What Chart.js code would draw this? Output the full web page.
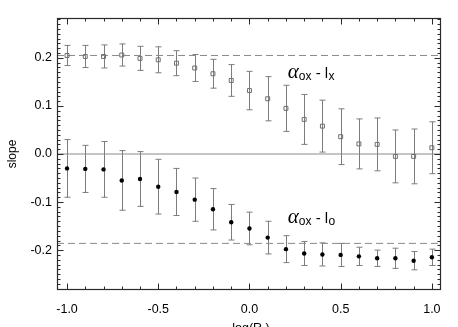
<!DOCTYPE html>
<html>
<head>
<meta charset="utf-8">
<script src="https://cdn.jsdelivr.net/npm/chart.js"></script>
<style>
  html, body { margin: 0; padding: 0; background: #fff; }
  #wrap { width: 458px; height: 327px; }
</style>
</head>
<body>
<div id="wrap"><canvas id="chart" width="458" height="327"></canvas></div>
<script>
// log(R*) bins
const logR = [-1.0, -0.9, -0.8, -0.7, -0.6, -0.5, -0.4, -0.3, -0.2, -0.1, 0.0,
              0.1, 0.2, 0.3, 0.4, 0.5, 0.6, 0.7, 0.8, 0.9, 1.0];

// alpha_ox - l_x (open squares)
const slopeLx = [0.205, 0.203, 0.203, 0.206, 0.199, 0.196, 0.189, 0.179, 0.167, 0.153, 0.132,
                 0.115, 0.095, 0.072, 0.058, 0.036, 0.021, 0.020, -0.005, -0.005, 0.013];
const errLx = [0.021, 0.023, 0.024, 0.023, 0.025, 0.027, 0.026, 0.028, 0.030, 0.033, 0.040,
               0.046, 0.048, 0.052, 0.054, 0.058, 0.052, 0.055, 0.055, 0.057, 0.054];

// alpha_ox - l_o (filled dots)
const slopeLo = [-0.030, -0.031, -0.032, -0.055, -0.052, -0.068, -0.079, -0.095, -0.115, -0.142, -0.155,
                 -0.174, -0.198, -0.207, -0.209, -0.210, -0.213, -0.217, -0.217, -0.222, -0.215];
const errLo = [0.060, 0.049, 0.058, 0.062, 0.057, 0.057, 0.049, 0.045, 0.043, 0.037, 0.034,
               0.034, 0.028, 0.025, 0.024, 0.024, 0.019, 0.017, 0.021, 0.019, 0.017];

// horizontal reference levels
const levelLx = 0.205;
const levelLo = -0.186;
const levelZero = 0.0;

// axis ticks
const xTicks = [-1.0, -0.5, 0.0, 0.5, 1.0];
const yTicks = [-0.2, -0.1, 0.0, 0.1, 0.2];
const xRange = [-1.055, 1.05];
const yRange = [-0.283, 0.283];

// label positions (data units)
const labelX = 0.21;
const labelLxY = 0.158;
const labelLoY = -0.144;

const FONT = "'Liberation Sans', Arial, Helvetica, sans-serif";

function pts(xs, ys) {
    return xs.map((x, i) => ({ x: x, y: ys[i] }));
}
function hline(v) {
    return [{ x: xRange[0], y: v }, { x: xRange[1], y: v }];
}

// error bars drawn through the chart scales
const errorBars = {
    id: "errorBars",
    beforeDatasetsDraw(chart) {
        const ctx = chart.ctx;
        const xs = chart.scales.x, ys = chart.scales.y;
        ctx.save();
        ctx.strokeStyle = "#7c7c7c";
        ctx.lineWidth = 1;
        chart.data.datasets.forEach(ds => {
            if (!ds.errors) return;
            ds.data.forEach((p, i) => {
                const px = Math.round(xs.getPixelForValue(p.x)) + 0.5;
                const top = ys.getPixelForValue(p.y + ds.errors[i]);
                const bot = ys.getPixelForValue(p.y - ds.errors[i]);
                ctx.beginPath();
                ctx.moveTo(px, top); ctx.lineTo(px, bot);
                ctx.moveTo(px - 3, top); ctx.lineTo(px + 3, top);
                ctx.moveTo(px - 3, bot); ctx.lineTo(px + 3, bot);
                ctx.stroke();
            });
        });
        ctx.restore();
    }
};

// IDL-style frame with inward ticks, axis titles and curve labels
const frame = {
    id: "frame",
    afterDraw(chart) {
        const ctx = chart.ctx;
        const a = chart.chartArea;
        const xs = chart.scales.x, ys = chart.scales.y;
        ctx.save();
        ctx.strokeStyle = "#2a2a2a";
        ctx.lineWidth = 1.2;
        const L = a.left + 0.5, R = a.right - 0.5, T = a.top + 0.5, B = a.bottom - 0.5;
        ctx.strokeRect(L, T, R - L, B - T);

        ctx.lineWidth = 1;
        ctx.beginPath();
        for (let k = -10; k <= 10; k++) {
            const v = k / 10;
            const px = Math.round(xs.getPixelForValue(v)) + 0.5;
            const len = (k % 5 === 0) ? 6 : 3;
            ctx.moveTo(px, B); ctx.lineTo(px, B - len);
            ctx.moveTo(px, T); ctx.lineTo(px, T + len);
        }
        for (let k = -28; k <= 28; k++) {
            const v = k / 100;
            const py = Math.round(ys.getPixelForValue(v)) + 0.5;
            const len = (k % 10 === 0) ? 6 : 3;
            ctx.moveTo(L, py); ctx.lineTo(L + len, py);
            ctx.moveTo(R, py); ctx.lineTo(R - len, py);
        }
        ctx.stroke();

        // y title
        ctx.fillStyle = "#000";
        ctx.font = "12px " + FONT;
        ctx.textAlign = "center";
        ctx.textBaseline = "middle";
        ctx.translate(13, (a.top + a.bottom) / 2);
        ctx.rotate(-Math.PI / 2);
        ctx.fillText("slope", 0, 0);
        ctx.setTransform(1, 0, 0, 1, 0, 0);

        // x title log(R*)
        ctx.textBaseline = "alphabetic";
        ctx.textAlign = "left";
        const p1 = "log(R", p3 = ")";
        ctx.font = "9px " + FONT;
        const w2 = ctx.measureText("*").width;
        ctx.font = "12.5px " + FONT;
        const w1 = ctx.measureText(p1).width, w3 = ctx.measureText(p3).width;
        const x0 = (a.left + a.right) / 2 - (w1 + w2 + w3) / 2 + 2;
        const by = 332;
        ctx.fillText(p1, x0, by);
        ctx.font = "9px " + FONT;
        ctx.fillText("*", x0 + w1, by + 3);
        ctx.font = "12.5px " + FONT;
        ctx.fillText(p3, x0 + w1 + w2, by);

        // curve labels
        drawAlphaLabel(ctx, xs.getPixelForValue(labelX), ys.getPixelForValue(labelLxY), "x");
        drawAlphaLabel(ctx, xs.getPixelForValue(labelX), ys.getPixelForValue(labelLoY), "o");
        ctx.restore();
    }
};

function drawAlphaLabel(ctx, x, y, sub) {
    ctx.fillStyle = "#000";
    ctx.textAlign = "left";
    ctx.textBaseline = "alphabetic";
    ctx.font = "italic 21px 'Liberation Serif', 'Times New Roman', serif";
    ctx.fillText("\u03b1", x, y);
    let cx = x + ctx.measureText("\u03b1").width;
    ctx.font = "12px " + FONT;
    ctx.fillText("ox", cx, y + 2);
    cx += ctx.measureText("ox").width;
    ctx.font = "15px " + FONT;
    ctx.fillText(" - l", cx, y);
    cx += ctx.measureText(" - l").width + 0.5;
    ctx.font = "12px " + FONT;
    ctx.fillText(sub, cx, y + 2);
}

new Chart(document.getElementById("chart"), {
    type: "scatter",
    data: {
        datasets: [
            {
                label: "alpha_ox - l_x",
                data: pts(logR, slopeLx),
                errors: errLx,
                pointStyle: "rect",
                pointRadius: 2.8,
                pointBorderWidth: 1,
                pointBorderColor: "#6f6f6f",
                pointBackgroundColor: "rgba(255,255,255,0)",
                order: 0
            },
            {
                label: "alpha_ox - l_o",
                data: pts(logR, slopeLo),
                errors: errLo,
                pointStyle: "circle",
                pointRadius: 2.2,
                pointBorderWidth: 0,
                pointBackgroundColor: "#000",
                order: 0
            },
            {
                type: "line",
                data: hline(levelLx),
                borderColor: "#8a8a8a",
                borderWidth: 1,
                borderDash: [7, 4],
                pointRadius: 0,
                order: 2
            },
            {
                type: "line",
                data: hline(levelLo),
                borderColor: "#8a8a8a",
                borderWidth: 1,
                borderDash: [7, 4],
                pointRadius: 0,
                order: 2
            },
            {
                type: "line",
                data: hline(levelZero),
                borderColor: "#8a8a8a",
                borderWidth: 1,
                pointRadius: 0,
                order: 2
            }
        ]
    },
    options: {
        responsive: false,
        animation: false,
        layout: { padding: { top: 18, right: 17, left: 0, bottom: 0 } },
        plugins: { legend: { display: false }, tooltip: { enabled: false } },
        scales: {
            x: {
                type: "linear",
                min: xRange[0],
                max: xRange[1],
                afterBuildTicks: s => { s.ticks = xTicks.map(v => ({ value: v })); },
                afterFit: s => { s.height = 37; },
                grid: { display: false, drawTicks: false },
                border: { display: false },
                ticks: {
                    padding: 12,
                    color: "#000",
                    maxRotation: 0,
                    font: { family: FONT, size: 12.5 },
                    callback: v => v.toFixed(1)
                }
            },
            y: {
                type: "linear",
                min: yRange[0],
                max: yRange[1],
                afterBuildTicks: s => { s.ticks = yTicks.map(v => ({ value: v })); },
                afterFit: s => { s.width = 57; },
                grid: { display: false, drawTicks: false },
                border: { display: false },
                ticks: {
                    padding: 5,
                    color: "#000",
                    font: { family: FONT, size: 12.5 },
                    callback: v => (Math.abs(v) < 1e-9 ? 0 : v).toFixed(1)
                }
            }
        }
    },
    plugins: [errorBars, frame]
});
</script>
</body>
</html>
